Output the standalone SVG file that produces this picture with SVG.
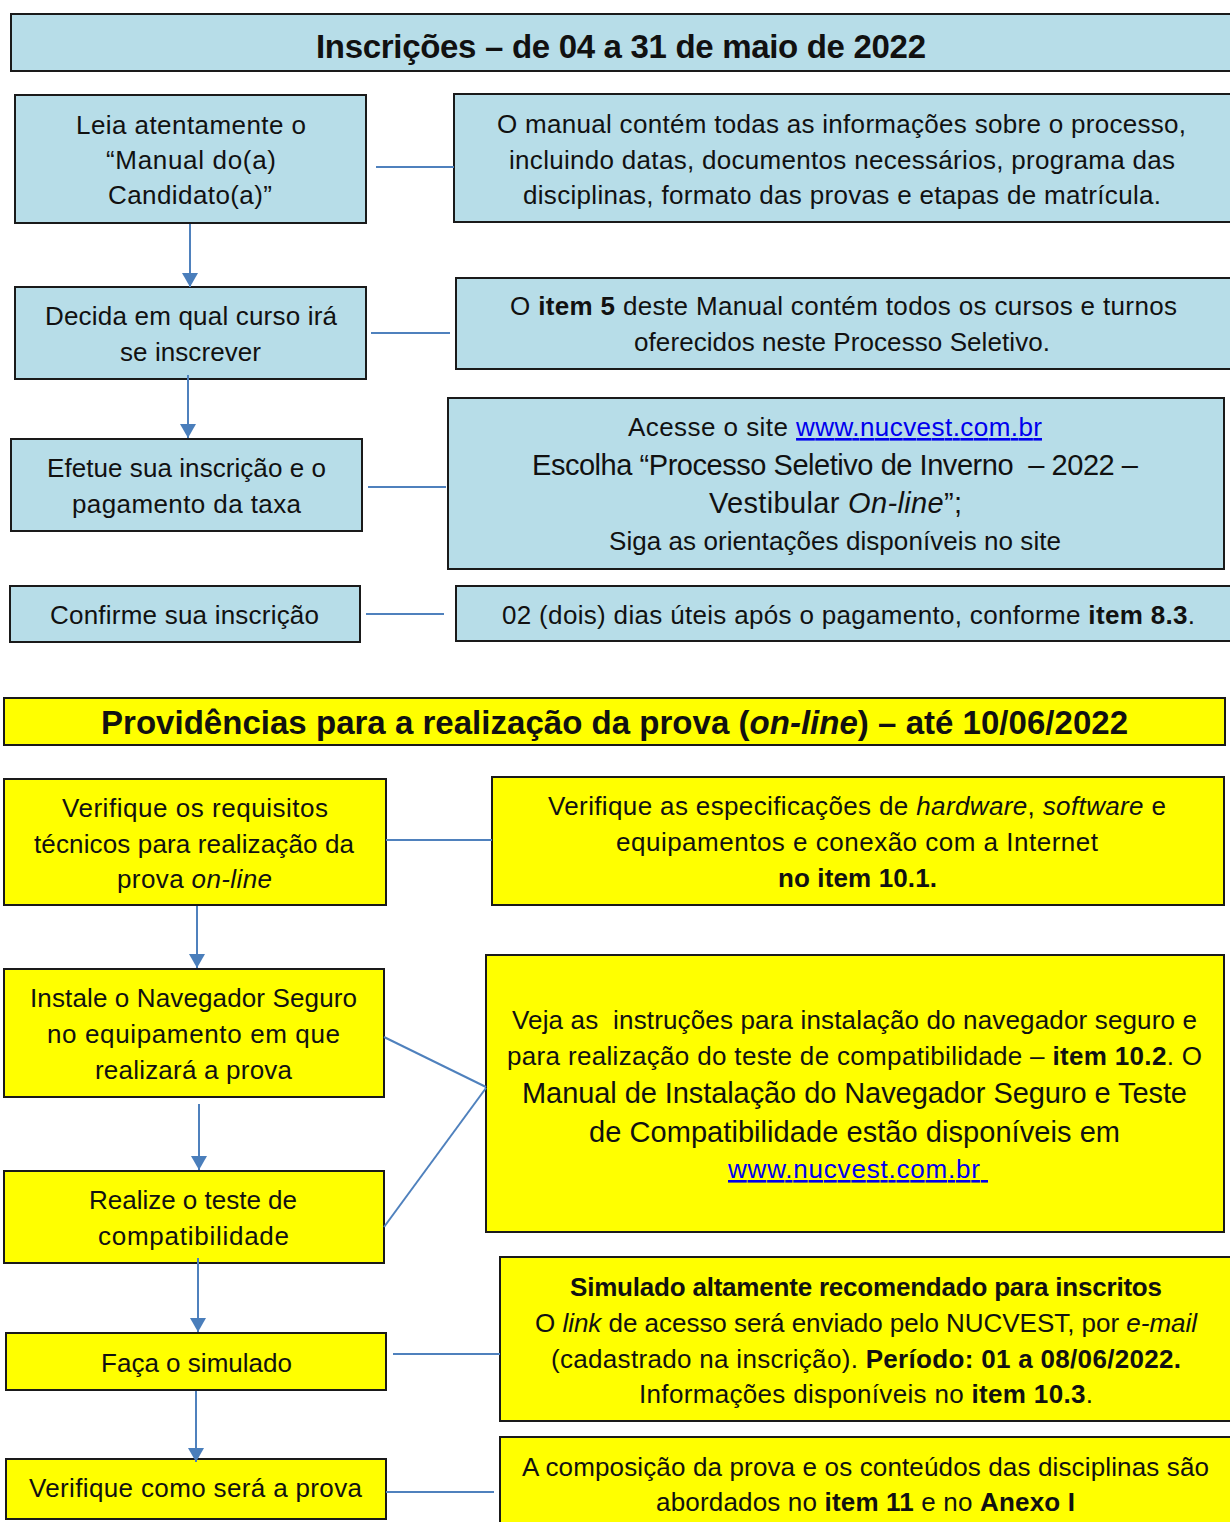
<svg xmlns="http://www.w3.org/2000/svg" width="1230" height="1522" viewBox="0 0 1230 1522">
<style>
.blue{fill:#b7dde8;stroke:#1a1a1a;stroke-width:2}
.yel{fill:#ffff00;stroke:#1a1a1a;stroke-width:2}
text{font-family:"Liberation Sans",Arial,sans-serif;font-size:26px;fill:#111}
.big{font-size:29px}
.title{font-size:33px;font-weight:bold}
.b{font-weight:bold}
.i{font-style:italic}
.link{fill:#0000ee;text-decoration:underline}
.con{stroke:#4f81bd;stroke-width:2;fill:none}
</style>
<defs>
<marker id="ah" markerUnits="userSpaceOnUse" markerWidth="14" markerHeight="16" refX="14" refY="8" orient="auto">
<path d="M0,0 L14,8 L0,16 z" fill="#4a7ebb"/>
</marker>
</defs>

<g id="header1">
<rect class="blue" x="11" y="14" width="1222" height="57"/>
<text class="title" x="316" y="58" textLength="610">Inscrições – de 04 a 31 de maio de 2022</text>
</g>

<g id="a1">
<rect class="blue" x="15" y="95" width="351" height="128"/>
<text x="76" y="134" textLength="230">Leia atentamente o</text>
<text x="106" y="169" textLength="170">“Manual do(a)</text>
<text x="108" y="204" textLength="164">Candidato(a)”</text>
</g>
<g id="b1">
<rect class="blue" x="454" y="94" width="777" height="128"/>
<text x="497" y="133" textLength="689">O manual contém todas as informações sobre o processo,</text>
<text x="509" y="169" textLength="666">incluindo datas, documentos necessários, programa das</text>
<text x="523" y="204" textLength="638">disciplinas, formato das provas e etapas de matrícula.</text>
</g>

<g id="a2">
<rect class="blue" x="15" y="287" width="351" height="92"/>
<text x="45" y="325" textLength="292">Decida em qual curso irá</text>
<text x="120" y="361" textLength="141">se inscrever</text>
</g>
<g id="b2">
<rect class="blue" x="456" y="278" width="775" height="91"/>
<text x="510" y="315" textLength="667">O <tspan class="b">item 5</tspan> deste Manual contém todos os cursos e turnos</text>
<text x="634" y="351" textLength="416">oferecidos neste Processo Seletivo.</text>
</g>

<g id="a3">
<rect class="blue" x="11" y="439" width="351" height="92"/>
<text x="47" y="477" textLength="279">Efetue sua inscrição e o</text>
<text x="72" y="513" textLength="229">pagamento da taxa</text>
</g>
<g id="b3">
<rect class="blue" x="448" y="398" width="776" height="171"/>
<text x="628" y="436" textLength="414">Acesse o site <tspan class="link">www.nucvest.com.br</tspan></text>
<text class="big" x="532" y="475" textLength="606" xml:space="preserve">Escolha “Processo Seletivo de Inverno  – 2022 –</text>
<text class="big" x="709" y="513" textLength="253">Vestibular <tspan class="i">On-line</tspan>”;</text>
<text x="609" y="550" textLength="452">Siga as orientações disponíveis no site</text>
</g>

<g id="a4">
<rect class="blue" x="10" y="586" width="350" height="56"/>
<text x="50" y="624" textLength="269">Confirme sua inscrição</text>
</g>
<g id="b4">
<rect class="blue" x="456" y="586" width="775" height="55"/>
<text x="502" y="624" textLength="693">02 (dois) dias úteis após o pagamento, conforme <tspan class="b">item 8.3</tspan>.</text>
</g>

<g id="header2">
<rect class="yel" x="4" y="698" width="1221" height="47"/>
<text class="title" x="101" y="734" textLength="1027">Providências para a realização da prova (<tspan class="i">on-line</tspan>) – até 10/06/2022</text>
</g>

<g id="c1">
<rect class="yel" x="4" y="779" width="382" height="126"/>
<text x="62" y="817" textLength="266">Verifique os requisitos</text>
<text x="34" y="853" textLength="320">técnicos para realização da</text>
<text x="117" y="888" textLength="155">prova <tspan class="i">on-line</tspan></text>
</g>
<g id="d1">
<rect class="yel" x="492" y="777" width="732" height="128"/>
<text x="548" y="815" textLength="618">Verifique as especificações de <tspan class="i">hardware</tspan>, <tspan class="i">software</tspan> e</text>
<text x="616" y="851" textLength="482">equipamentos e conexão com a Internet</text>
<text class="b" x="778" y="887" textLength="159">no item 10.1.</text>
</g>

<g id="c2">
<rect class="yel" x="4" y="969" width="380" height="128"/>
<text x="30" y="1007" textLength="327">Instale o Navegador Seguro</text>
<text x="47" y="1043" textLength="293">no equipamento em que</text>
<text x="95" y="1079" textLength="197">realizará a prova</text>
</g>
<g id="d2">
<rect class="yel" x="486" y="955" width="738" height="277"/>
<text x="512" y="1029" textLength="685" xml:space="preserve">Veja as  instruções para instalação do navegador seguro e</text>
<text x="507" y="1065" textLength="695">para realização do teste de compatibilidade – <tspan class="b">item 10.2</tspan>. O</text>
<text class="big" x="522" y="1103" textLength="665">Manual de Instalação do Navegador Seguro e Teste</text>
<text class="big" x="589" y="1142" textLength="531">de Compatibilidade estão disponíveis em</text>
<text class="link" x="728" y="1178" textLength="260" xml:space="preserve">www.nucvest.com.br </text>
</g>

<g id="c3">
<rect class="yel" x="4" y="1171" width="380" height="92"/>
<text x="89" y="1209" textLength="208">Realize o teste de</text>
<text x="98" y="1245" textLength="191">compatibilidade</text>
</g>

<g id="c4">
<rect class="yel" x="6" y="1333" width="380" height="57"/>
<text x="101" y="1372" textLength="191">Faça o simulado</text>
</g>
<g id="d3">
<rect class="yel" x="500" y="1257" width="731" height="164"/>
<text class="b" x="570" y="1296" textLength="592">Simulado altamente recomendado para inscritos</text>
<text x="535" y="1332" textLength="662">O <tspan class="i">link</tspan> de acesso será enviado pelo NUCVEST, por <tspan class="i">e-mail</tspan></text>
<text x="551" y="1368" textLength="630">(cadastrado na inscrição). <tspan class="b">Período: 01 a 08/06/2022.</tspan></text>
<text x="639" y="1403" textLength="454">Informações disponíveis no <tspan class="b">item 10.3</tspan>.</text>
</g>

<g id="c5">
<rect class="yel" x="6" y="1459" width="380" height="60"/>
<text x="29" y="1497" textLength="333">Verifique como será a prova</text>
</g>
<g id="d4">
<rect class="yel" x="500" y="1437" width="731" height="90"/>
<text x="522" y="1476" textLength="687">A composição da prova e os conteúdos das disciplinas são</text>
<text x="656" y="1511" textLength="419">abordados no <tspan class="b">item 11</tspan> e no <tspan class="b">Anexo I</tspan></text>
</g>

<g id="connectors">
<line class="con" x1="190" y1="224" x2="190" y2="287" marker-end="url(#ah)"/>
<line class="con" x1="188" y1="375" x2="188" y2="438" marker-end="url(#ah)"/>
<line class="con" x1="197" y1="906" x2="197" y2="968" marker-end="url(#ah)"/>
<line class="con" x1="199" y1="1104" x2="199" y2="1170" marker-end="url(#ah)"/>
<line class="con" x1="198" y1="1258" x2="198" y2="1332" marker-end="url(#ah)"/>
<line class="con" x1="196" y1="1391" x2="196" y2="1462" marker-end="url(#ah)"/>
<line class="con" x1="376" y1="167" x2="454" y2="167"/>
<line class="con" x1="371" y1="333" x2="450" y2="333"/>
<line class="con" x1="368" y1="487" x2="446" y2="487"/>
<line class="con" x1="366" y1="614" x2="444" y2="614"/>
<line class="con" x1="386" y1="840" x2="492" y2="840"/>
<line class="con" x1="384" y1="1037" x2="486" y2="1087"/>
<line class="con" x1="384" y1="1227" x2="486" y2="1088"/>
<line class="con" x1="393" y1="1354" x2="500" y2="1354"/>
<line class="con" x1="386" y1="1492" x2="494" y2="1492"/>
</g>
</svg>
